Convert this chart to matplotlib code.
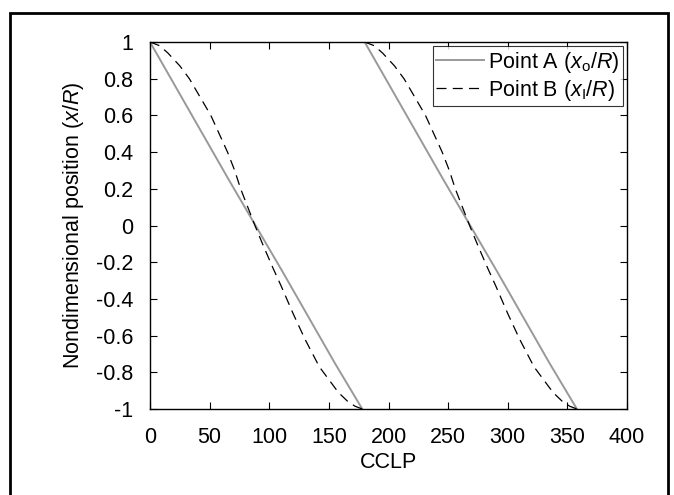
import numpy as np
import matplotlib
matplotlib.use("Agg")
import matplotlib.pyplot as plt
from matplotlib.patches import Rectangle

plt.rcParams['font.family'] = ['Liberation Sans', 'DejaVu Sans']
plt.rcParams['mathtext.fontset'] = 'custom'
plt.rcParams['mathtext.rm'] = 'Liberation Sans'
plt.rcParams['mathtext.it'] = 'Liberation Sans:italic'
plt.rcParams['axes.unicode_minus'] = False

# Point A (x_o/R), two cycles
cclp_a1 = [0, 22, 44, 66, 88.5, 111, 133, 155, 178]
pos_a1 = [1.0, 0.75, 0.5, 0.25, 0.0, -0.25, -0.5, -0.75, -1.0]
cclp_a2 = [180, 202, 224, 246, 268.5, 291, 313, 335, 358]
pos_a2 = [1.0, 0.75, 0.5, 0.25, 0.0, -0.25, -0.5, -0.75, -1.0]

# Point B (x_I/R), two cycles
cclp_b1 = [0, 8, 15, 25, 33, 42, 51, 58, 65, 71, 76, 82, 88,
           95, 103, 110, 120, 130, 142, 150, 158, 166, 172, 178]
pos_b1 = [1.0, 0.98, 0.94, 0.87, 0.80, 0.70, 0.60, 0.50, 0.40, 0.30, 0.20, 0.10, 0.0,
          -0.11, -0.23, -0.33, -0.48, -0.62, -0.77, -0.84, -0.91, -0.96, -0.985, -1.0]
cclp_b2 = [180, 188, 195, 205, 213, 222, 231, 238, 245, 251, 256, 262, 268,
           275, 283, 290, 300, 310, 322, 330, 338, 346, 352, 358]
pos_b2 = [1.0, 0.98, 0.94, 0.87, 0.80, 0.70, 0.60, 0.50, 0.40, 0.30, 0.20, 0.10, 0.0,
          -0.11, -0.23, -0.33, -0.48, -0.62, -0.77, -0.84, -0.91, -0.96, -0.985, -1.0]

x_ticks = [0, 50, 100, 150, 200, 250, 300, 350, 400]
y_ticks = [1, 0.8, 0.6, 0.4, 0.2, 0, -0.2, -0.4, -0.6, -0.8, -1]
y_tick_labels = ['1', '0.8', '0.6', '0.4', '0.2', '0', '-0.2', '-0.4', '-0.6', '-0.8', '-1']

fig = plt.figure(figsize=(6.74, 4.95), dpi=100)
ax = fig.add_axes([150 / 674, 1 - 409 / 495, 477 / 674, 367 / 495])

# outer frame around the figure
fig.patches.append(Rectangle((10 / 674, -0.05), 658 / 674, 1.05 - 13 / 495,
                             transform=fig.transFigure, fill=False,
                             edgecolor='black', linewidth=2))

ax.plot(cclp_a1, pos_a1, color='#999999', linewidth=1.4, label=r'Point A ($x_{\mathrm{o}}/R$)')
ax.plot(cclp_a2, pos_a2, color='#999999', linewidth=1.4)
ax.plot(cclp_b1, pos_b1, color='black', linewidth=0.9, dashes=(8, 5), label=r'Point B ($x_{\mathrm{I}}/R$)')
ax.plot(cclp_b2, pos_b2, color='black', linewidth=0.9, dashes=(8, 5))

ax.set_xlim(0, 400)
ax.set_ylim(-1, 1)
ax.set_xticks(x_ticks)
ax.set_yticks(y_ticks)
ax.set_yticklabels(y_tick_labels)
ax.tick_params(direction='in', top=True, right=True, length=5, labelsize=15.5)
ax.tick_params(axis='x', pad=13)
ax.tick_params(axis='y', pad=12)
for s in ax.spines.values():
    s.set_linewidth(1.0)

ax.set_xlabel('CCLP', fontsize=15.5, labelpad=3)
ax.set_ylabel(r'Nondimensional position ($x/R$)', fontsize=15.5, labelpad=7)

leg = ax.legend(loc='upper right', fontsize=15.5, frameon=True, fancybox=False,
                edgecolor='black', handlelength=2.2, handletextpad=0.2,
                borderaxespad=0.2, borderpad=0.15, labelspacing=0.15)
leg.get_frame().set_linewidth(0.8)

fig.savefig('out.png', dpi=100)
